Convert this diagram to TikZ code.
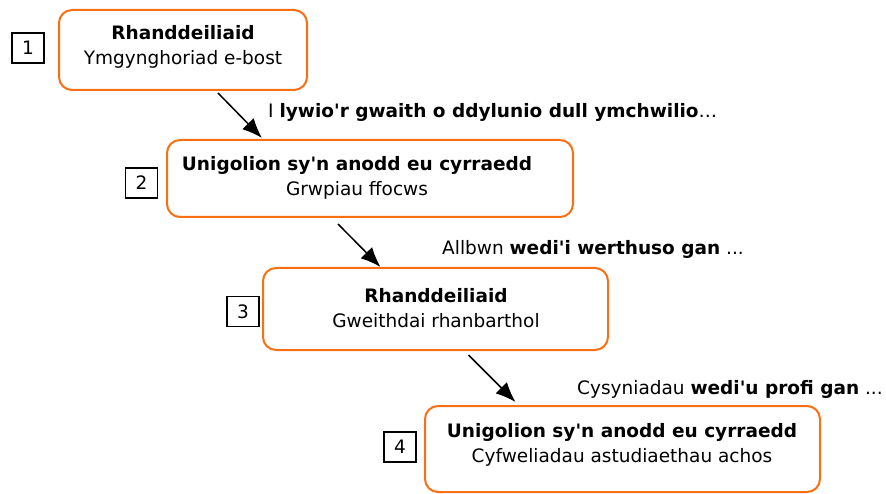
\documentclass[tikz,border=0pt]{standalone}
\usepackage{fontspec}
\setmainfont{DejaVu Sans}
\usetikzlibrary{arrows.meta}
\definecolor{boxorange}{RGB}{250,110,20}
\newcommand{\ap}{\textquotesingle}
\tikzset{
  panel/.style={draw=boxorange, line width=2pt, rounded corners=13pt},
  paneltext/.style={align=center, font=\fontsize{18.5}{25}\selectfont},
  numbox/.style={draw, line width=1.2pt, minimum width=32pt, minimum height=30pt, inner sep=0pt, font=\fontsize{18.5}{22}\selectfont},
  note/.style={anchor=west, inner sep=0pt, font=\fontsize{18.5}{22}\selectfont},
  flow/.style={line width=1.5pt, -{Latex[length=20pt,width=16pt]}}
}
\begin{document}
\begin{tikzpicture}[x=1pt,y=-1pt]
	\useasboundingbox (0,0) rectangle (886,494);
	% the four panels
	\node[panel, minimum width=248pt, minimum height=80pt] (b1) at (183,50) {};
	\node[panel, minimum width=406pt, minimum height=77pt] (b2) at (370,178.5) {};
	\node[panel, minimum width=345pt, minimum height=82pt] (b3) at (435.5,309) {};
	\node[panel, minimum width=395pt, minimum height=86pt] (b4) at (622.5,449) {};
	\node[paneltext] (t1) at (183,47) {\textbf{Rhanddeiliaid}\\Ymgynghoriad e-bost};
	\node[paneltext] (t2) at (357,178) {\textbf{Unigolion sy\ap n anodd eu cyrraedd}\\Grwpiau ffocws};
	\node[paneltext] (t3) at (436,308.5) {\textbf{Rhanddeiliaid}\\Gweithdai rhanbarthol};
	\node[paneltext] (t4) at (622,444.5) {\textbf{Unigolion sy\ap n anodd eu cyrraedd}\\Cyfweliadau astudiaethau achos};
	% step numbers
	\node[numbox] (n1) at (28,48) {1};
	\node[numbox] (n2) at (141.5,183) {2};
	\node[numbox] (n3) at (243,311.5) {3};
	\node[numbox] (n4) at (400,447) {4};
	% arrows
	\draw[flow] ([xshift=35pt,yshift=-2pt]b1.south) -- ([xshift=-108pt,yshift=1pt]b2.north);
	\draw[flow] ([xshift=-32pt,yshift=-6pt]b2.south) -- ([xshift=-55pt,yshift=0pt]b3.north);
	\draw[flow] ([xshift=33pt,yshift=-4pt]b3.south) -- ([xshift=-107pt,yshift=3pt]b4.north);
	% notes
	\node[note] (m1) at (268,112.5) {I \textbf{lywio\ap r gwaith o ddylunio dull ymchwilio}…};
	\node[note] (m2) at (442,249.5) {Allbwn \textbf{wedi\ap i werthuso gan} ...};
	\node[note] (m3) at (577,389.5) {Cysyniadau \textbf{wedi\ap u profi gan} ...};
\end{tikzpicture}
\end{document}
